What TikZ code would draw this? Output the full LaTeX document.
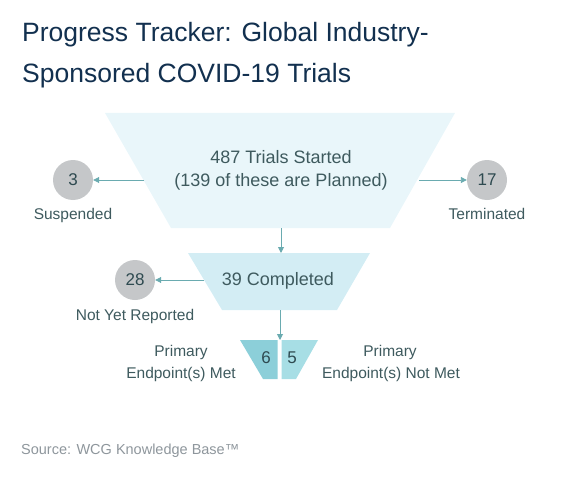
\documentclass[tikz,border=0pt]{standalone}
\usepackage{fontspec}
\setmainfont{Liberation Sans}
\usetikzlibrary{arrows.meta}
\definecolor{titlec}{HTML}{12304F}
\definecolor{bodyc}{HTML}{3E5A5E}
\definecolor{numc}{HTML}{2E4A50}
\definecolor{fone}{HTML}{E9F6FA}
\definecolor{ftwo}{HTML}{D3EDF4}
\definecolor{fmet}{HTML}{8CCFD9}
\definecolor{fnot}{HTML}{A7DEE5}
\definecolor{circc}{HTML}{C5C7C9}
\definecolor{arrc}{HTML}{6AABB0}
\definecolor{srcc}{HTML}{8E969C}
\tikzset{
  body/.style={text=bodyc, font=\fontsize{15.5}{18}\selectfont, inner sep=0pt, anchor=base},
  big/.style={text=bodyc, font=\fontsize{18}{22}\selectfont, inner sep=0pt, anchor=base},
  bubble/.style={circle, fill=circc, minimum size=40pt, inner sep=0pt, text=numc, font=\fontsize{17}{20}\selectfont},
  conn/.style={draw=arrc, line width=0.9pt, -{Triangle[length=6pt,width=6pt]}},
}
\begin{document}
\begin{tikzpicture}[x=1pt,y=-1pt]
\useasboundingbox (0,0) rectangle (561,481);
% title
\node[text=titlec, font=\fontsize{26.5}{32}\selectfont, anchor=base west, inner sep=0pt] (t1) at (22,42) {Progress Tracker: Global Industry-};
\node[text=titlec, font=\fontsize{26.5}{32}\selectfont, anchor=base west, inner sep=0pt] (t2) at (22,83) {Sponsored COVID-19 Trials};
% funnels
\fill[fone] (105,113) -- (455,113) -- (390,228) -- (171,228) -- cycle;
\fill[ftwo] (188,253) -- (370,253) -- (337,310) -- (222,310) -- cycle;
\fill[fmet] (240,340) -- (277.5,340) -- (277.5,379) -- (263,379) -- cycle;
\fill[fnot] (281.5,340) -- (318,340) -- (296,379) -- (281.5,379) -- cycle;
% texts
\node[big] (s1) at (281,164) {487 Trials Started};
\node[big] (s2) at (281,186.5) {(139 of these are Planned)};
\node[big] (comp) at (278,285) {39 Completed};
\node[text=numc, font=\fontsize{17}{20}\selectfont, anchor=base, inner sep=0pt] (six) at (266,363) {6};
\node[text=numc, font=\fontsize{17}{20}\selectfont, anchor=base, inner sep=0pt] (five) at (292,363) {5};
% bubbles
\node[bubble] (b3) at (73,180) {3};
\node[bubble] (b17) at (487,180) {17};
\node[bubble] (b28) at (135,280) {28};
\node[body] (l3) at (73,219) {Suspended};
\node[body] (l17) at (487,219) {Terminated};
\node[body] (l28) at (135,320) {Not Yet Reported};
\node[body] (m1) at (181,356) {Primary};
\node[body] (m2) at (181,378) {Endpoint(s) Met};
\node[body] (n1) at (390,356) {Primary};
\node[body] (n2) at (391,378) {Endpoint(s) Not Met};
% connectors
\coordinate (f1l) at (144,180);
\coordinate (f1r) at (419,180);
\coordinate (f1b) at (281,228);
\coordinate (f2t) at (281,253);
\coordinate (f2l) at (204,280);
\coordinate (f2b) at (280,310);
\coordinate (f3t) at (280,340);
\draw[conn] (f1l) -- (b3);
\draw[conn] (f1r) -- (b17);
\draw[conn] (f1b) -- (f2t);
\draw[conn] (f2l) -- (b28);
\draw[conn] (f2b) -- (f3t);
% source
\node[text=srcc, font=\fontsize{14.5}{17}\selectfont, anchor=base west, inner sep=0pt] (src) at (21,454) {Source: WCG Knowledge Base™};
\end{tikzpicture}
\end{document}
